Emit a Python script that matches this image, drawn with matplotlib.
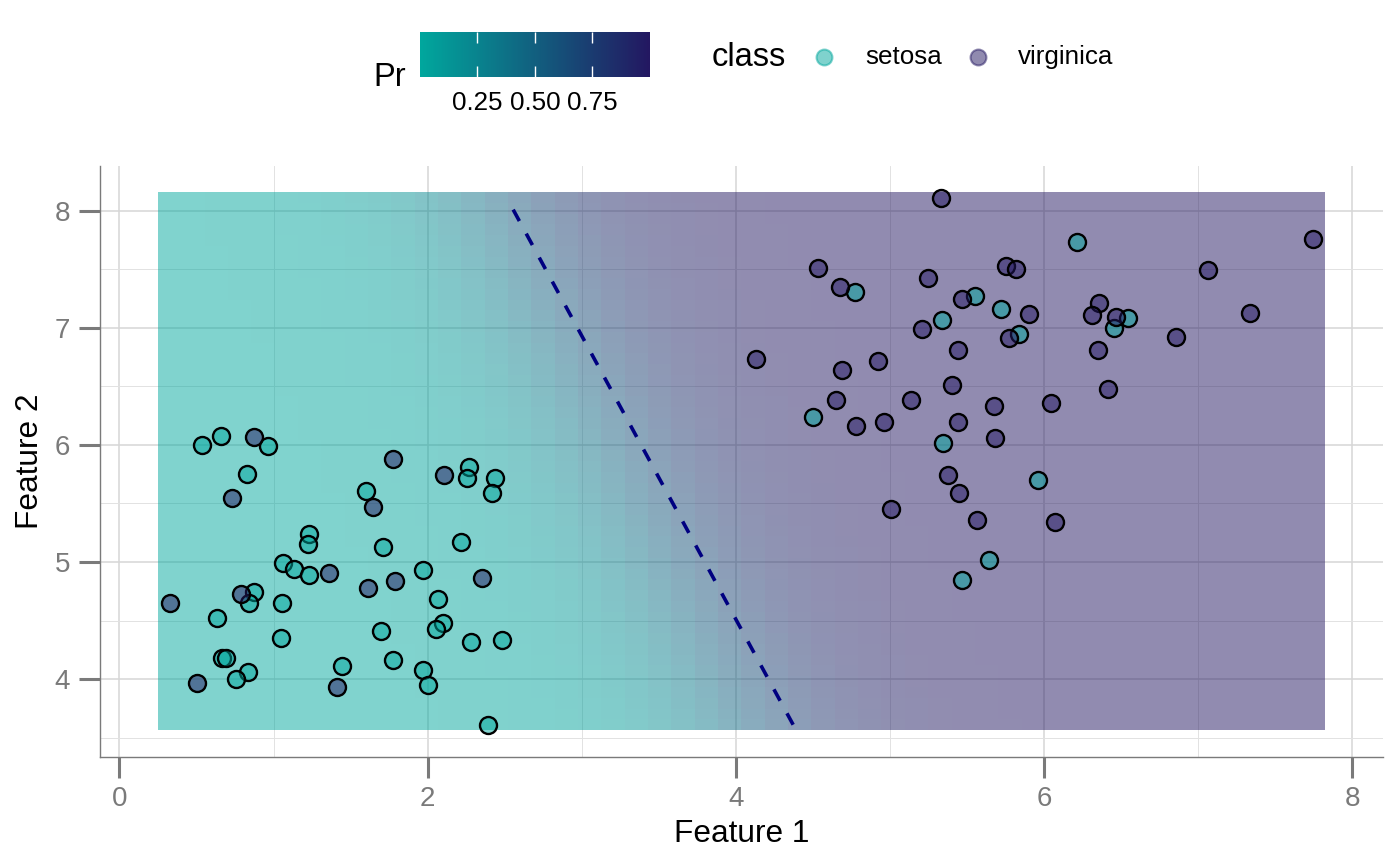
import numpy as np
import matplotlib
matplotlib.use("Agg")
import matplotlib.pyplot as plt
from matplotlib.colors import LinearSegmentedColormap, Normalize
from matplotlib.cm import ScalarMappable
from matplotlib.ticker import MultipleLocator

plt.rcParams["font.family"] = ["Liberation Sans", "DejaVu Sans"]

# points
setosa_x = [0.533, 0.66, 0.967, 0.827, 2.271, 2.255, 2.439, 2.415, 1.597, 1.231,
            1.222, 1.713, 2.214, 1.064, 1.134, 1.233, 1.968, 0.870, 0.842, 1.055,
            0.635, 2.070, 2.098, 2.051, 1.699, 1.048, 2.283, 2.480, 0.665, 0.689,
            1.773, 1.444, 1.970, 0.837, 0.753, 2.000, 2.394,
            4.500, 4.772, 6.217, 5.555, 5.720, 5.335, 5.839, 6.548, 6.453, 5.343,
            5.964, 5.644, 5.467]
setosa_y = [6.00, 6.08, 5.99, 5.75, 5.81, 5.72, 5.72, 5.59, 5.61, 5.24,
            5.15, 5.13, 5.17, 4.99, 4.94, 4.89, 4.93, 4.74, 4.65, 4.65,
            4.52, 4.68, 4.48, 4.43, 4.41, 4.35, 4.32, 4.33, 4.18, 4.18,
            4.16, 4.11, 4.08, 4.06, 4.00, 3.95, 3.61,
            6.24, 7.31, 7.73, 7.27, 7.16, 7.07, 6.95, 7.08, 7.00, 6.02,
            5.70, 5.02, 4.85]
virginica_x = [0.870, 1.773, 0.733, 2.107, 1.648, 1.361, 2.353, 1.611, 1.787, 0.790,
               0.325, 0.503, 1.409,
               4.532, 4.675, 4.130, 4.690, 4.920, 4.647, 4.777, 4.960, 5.004, 5.330,
               5.246, 5.752, 5.817, 5.469, 5.900, 5.210, 5.776, 6.360, 6.312, 6.466,
               6.351, 5.445, 5.406, 6.416, 5.134, 5.676, 6.044, 5.443, 5.679, 5.376,
               5.447, 5.564, 6.072, 7.067, 7.746, 7.335, 6.857]
virginica_y = [6.07, 5.88, 5.55, 5.74, 5.47, 4.91, 4.86, 4.78, 4.84, 4.73,
               4.65, 3.97, 3.93,
               7.51, 7.35, 6.73, 6.64, 6.72, 6.38, 6.16, 6.20, 5.45, 8.11,
               7.43, 7.53, 7.50, 7.25, 7.12, 6.99, 6.91, 7.21, 7.11, 7.09,
               6.81, 6.81, 6.51, 6.48, 6.38, 6.33, 6.36, 6.20, 6.06, 5.74,
               5.59, 5.36, 5.34, 7.49, 7.76, 7.13, 6.92]

# fitted model behind the shaded surface: logit(Pr) = b0 + b1*f1 + b2*f2
coef_b0 = -14.99
coef_b1 = 2.8
coef_b2 = 1.0
n_grid = 50

# dashed decision boundary
bound_x = [2.555, 4.372]
bound_y = [8.01, 3.61]

low_col = "#00A79D"
high_col = "#231761"
grid_col = "#D6D6D6"
axis_grey = "#7A7A7A"


def main():
    all_x = np.array(setosa_x + virginica_x)
    all_y = np.array(setosa_y + virginica_y)
    gx = np.linspace(all_x.min(), all_x.max(), n_grid)
    gy = np.linspace(all_y.min(), all_y.max(), n_grid)
    dx = gx[1] - gx[0]
    dy = gy[1] - gy[0]
    GX, GY = np.meshgrid(gx, gy)
    P = 1 / (1 + np.exp(-(coef_b0 + coef_b1 * GX + coef_b2 * GY)))

    cmap = LinearSegmentedColormap.from_list("pr", [low_col, high_col])
    norm = Normalize(P.min(), P.max())

    fig = plt.figure(figsize=(14, 8.66), dpi=100)
    ax = fig.add_axes([0.0711, 0.1259, 0.9168, 0.6828])

    ext = [gx[0] - dx / 2, gx[-1] + dx / 2, gy[0] - dy / 2, gy[-1] + dy / 2]
    ax.imshow(P, cmap=cmap, norm=norm, alpha=0.5, extent=ext, origin="lower",
              aspect="auto", interpolation="nearest", zorder=1)

    ax.plot(bound_x, bound_y, color="#000080", lw=2.6, dashes=(3.6, 3.96), zorder=2)

    ax.scatter(setosa_x, setosa_y, s=150, facecolor=(*matplotlib.colors.to_rgb(low_col), 0.5),
               edgecolor="black", linewidths=1.7, zorder=3)
    ax.scatter(virginica_x, virginica_y, s=150, facecolor=(*matplotlib.colors.to_rgb(high_col), 0.5),
               edgecolor="black", linewidths=1.7, zorder=3)

    padx = 0.05 * (ext[1] - ext[0])
    pady = 0.05 * (ext[3] - ext[2])
    ax.set_xlim(ext[0] - padx, ext[1] + padx)
    ax.set_ylim(ext[2] - pady, ext[3] + pady)

    ax.xaxis.set_major_locator(MultipleLocator(2))
    ax.xaxis.set_minor_locator(MultipleLocator(1))
    ax.yaxis.set_major_locator(MultipleLocator(1))
    ax.yaxis.set_minor_locator(MultipleLocator(0.5))
    ax.set_axisbelow(True)
    ax.grid(which="major", color=grid_col, lw=1.1)
    ax.grid(which="minor", color="#E2E2E2", lw=0.7)

    for side in ["top", "right"]:
        ax.spines[side].set_visible(False)
    for side in ["left", "bottom"]:
        ax.spines[side].set_color(axis_grey)
        ax.spines[side].set_linewidth(1.0)
    ax.tick_params(which="major", length=15, width=2.2, color=axis_grey,
                   labelcolor=axis_grey, labelsize=20, pad=6)
    ax.tick_params(which="minor", length=0)

    ax.set_xlabel("Feature 1", fontsize=22.8, labelpad=5)
    ax.set_ylabel("Feature 2", fontsize=22.8, labelpad=7)

    # colour bar legend
    cax = fig.add_axes([420 / 1400, 1 - 77 / 866, 230 / 1400, 45 / 866])
    cb = fig.colorbar(ScalarMappable(norm=norm, cmap=cmap), cax=cax, orientation="horizontal")
    cb.outline.set_visible(False)
    cb.set_ticks([0.25, 0.50, 0.75])
    cb.set_ticklabels(["0.25", "0.50", "0.75"])
    cax.tick_params(direction="in", color="white", length=8, width=1.0,
                    top=True, bottom=True, labelsize=18.7, pad=10)

    # class legend and titles in pixel space
    lax = fig.add_axes([0, 0, 1, 1], zorder=5)
    lax.set_xlim(0, 1400)
    lax.set_ylim(866, 0)
    lax.axis("off")
    lax.text(373, 85.7, "Pr", fontsize=23.5, va="baseline", ha="left")
    lax.text(712, 65.7, "class", fontsize=23.5, va="baseline", ha="left")
    lax.scatter([824], [57], s=130, color=low_col, alpha=0.5, linewidths=1.5)
    lax.scatter([977.5], [57], s=130, color=high_col, alpha=0.5, linewidths=1.5)
    lax.text(865, 64, "setosa", fontsize=18.7, va="baseline", ha="left")
    lax.text(1018, 64, "virginica", fontsize=18.7, va="baseline", ha="left")

    fig.savefig("out.png", dpi=100)


if __name__ == "__main__":
    main()
